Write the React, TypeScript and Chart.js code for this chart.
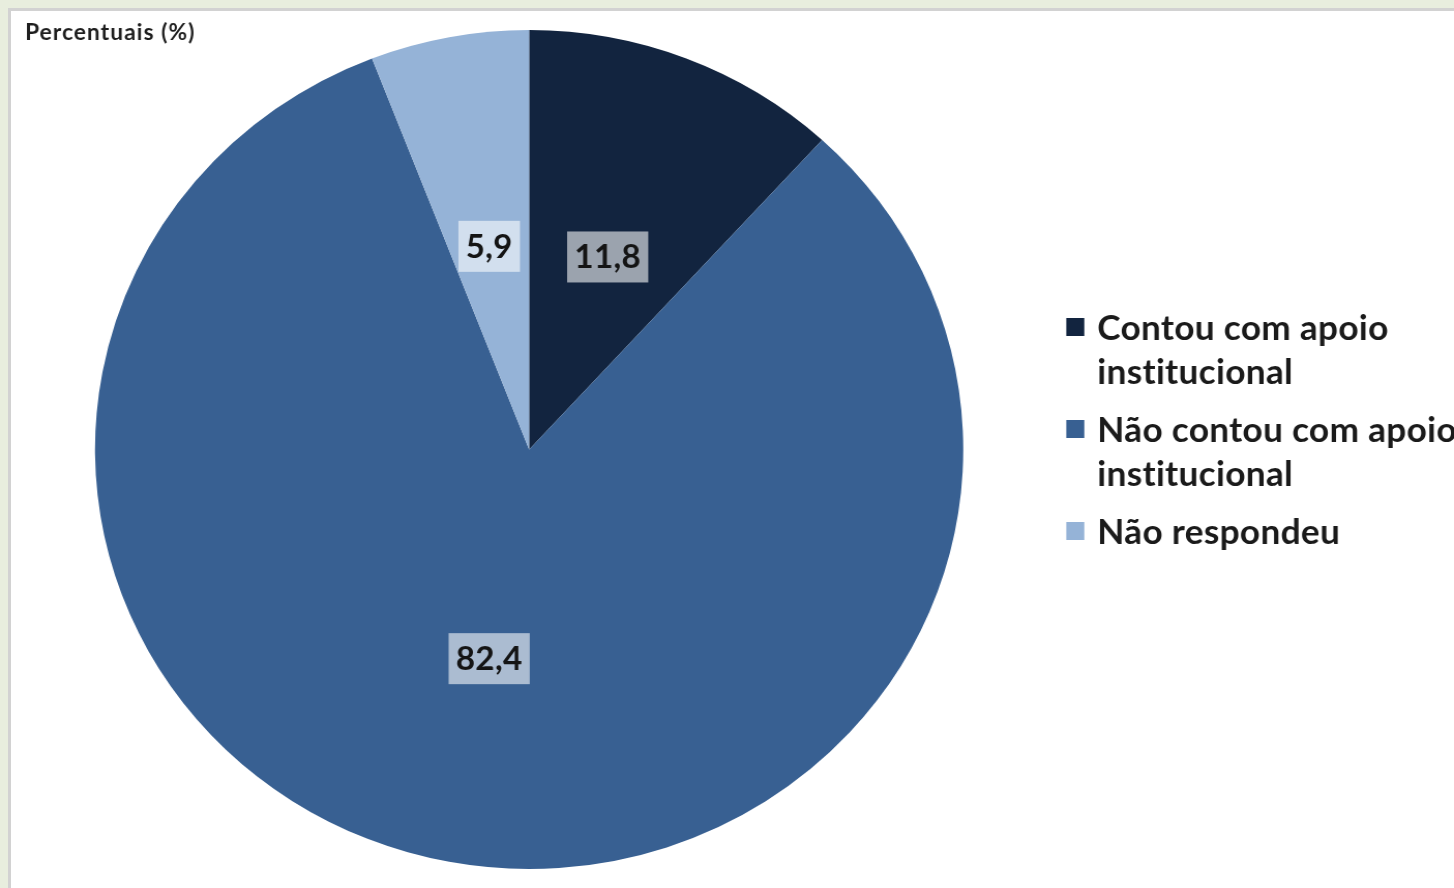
import React, { useEffect, useRef } from "react";
import { Chart, registerables } from "chart.js";

Chart.register(...registerables);

// ---- Data ----
const categories = [
  "Contou com apoio institucional",
  "Não contou com apoio institucional",
  "Não respondeu",
];
const legendLines = [
  ["Contou com apoio", "institucional"],
  ["Não contou com apoio", "institucional"],
  ["Não respondeu"],
];
const values = [11.8, 82.4, 5.9];
const valueLabels = ["11,8", "82,4", "5,9"];
const colors = ["#12243f", "#386092", "#95b3d7"];
const titleText = "Percentuais (%)";

// ---- Layout ----
const SCREEN_W = 1454;
const SCREEN_H = 888;
const STRETCH = 1.0346; // the reference is slightly wider than tall
const CW = Math.round(SCREEN_W / STRETCH);
const CX = 511.3;
const CY = 449.5;
const R = 419.5;
const FONT = "Lato, 'Noto Sans', sans-serif";

const sx = (screenX: number) => screenX / STRETCH;

const overlayPlugin = {
  id: "overlay",
  afterDatasetsDraw(chart: any) {
    const ctx = chart.ctx as any;
    const meta = chart.getDatasetMeta(0);
    const ds = chart.data.datasets[0];
    ctx.save();
    ctx.letterSpacing = "0.3px";

    // value label boxes
    ctx.font = `bold 32px ${FONT}`;
    ctx.textAlign = "center";
    ctx.textBaseline = "alphabetic";
    meta.data.forEach((arc: any, i: number) => {
      const p = arc.getCenterPoint();
      const x = p.x;
      const y = p.y + 3;
      const t = valueLabels[i];
      const w = ctx.measureText(t).width + 14;
      const h = 51;
      ctx.fillStyle = "rgba(255,255,255,0.58)";
      ctx.fillRect(x - w / 2, y - h / 2, w, h);
      ctx.fillStyle = "#141414";
      ctx.fillText(t, x, y + 11.5);
    });

    // title
    ctx.textAlign = "left";
    ctx.letterSpacing = "1px";
    ctx.font = `bold 22px ${FONT}`;
    ctx.fillStyle = "#1e1e1e";
    ctx.fillText(titleText, sx(25), 40);

    // legend
    ctx.letterSpacing = "0.3px";
    const baselines = [[340, 384], [442, 486], [544]];
    ctx.font = `bold 34px ${FONT}`;
    legendLines.forEach((lines, i) => {
      const b0 = baselines[i][0];
      ctx.fillStyle = (ds.backgroundColor as string[])[i];
      ctx.fillRect(sx(1066), b0 - 22, sx(18), 18);
      ctx.fillStyle = "#1a1a1a";
      lines.forEach((ln, j) => {
        ctx.fillText(ln, sx(1097), baselines[i][j]);
      });
    });

    ctx.restore();
  },
};

export default function App() {
  const canvasRef = useRef<HTMLCanvasElement | null>(null);

  useEffect(() => {
    const canvas = canvasRef.current;
    if (!canvas) return;
    const chart = new Chart(canvas, {
      type: "pie",
      data: {
        labels: categories,
        datasets: [
          {
            data: values,
            backgroundColor: colors,
            borderWidth: 0,
          },
        ],
      },
      options: {
        responsive: false,
        animation: false,
        devicePixelRatio: 1,
        layout: {
          padding: {
            top: CY - R,
            bottom: SCREEN_H - CY - R,
            left: CX - R,
            right: CW - CX - R,
          },
        },
        plugins: {
          legend: { display: false },
          tooltip: { enabled: false },
          title: { display: false },
        },
      },
      plugins: [overlayPlugin],
    });
    return () => chart.destroy();
  }, []);

  return (
    <div
      style={{
        position: "absolute",
        left: 0,
        top: 0,
        width: SCREEN_W,
        height: SCREEN_H,
        overflow: "hidden",
        background: "#e8eede",
      }}
    >
      <div
        style={{
          position: "absolute",
          left: 8,
          top: 8,
          right: -10,
          bottom: -10,
          background: "#ffffff",
          borderLeft: "3px solid #d2d2d2",
          borderTop: "3px solid #d2d2d2",
        }}
      />
      <canvas
        ref={canvasRef}
        width={CW}
        height={SCREEN_H}
        style={{
          position: "absolute",
          left: 0,
          top: 0,
          width: SCREEN_W + "px",
          height: SCREEN_H + "px",
        }}
      />
    </div>
  );
}
